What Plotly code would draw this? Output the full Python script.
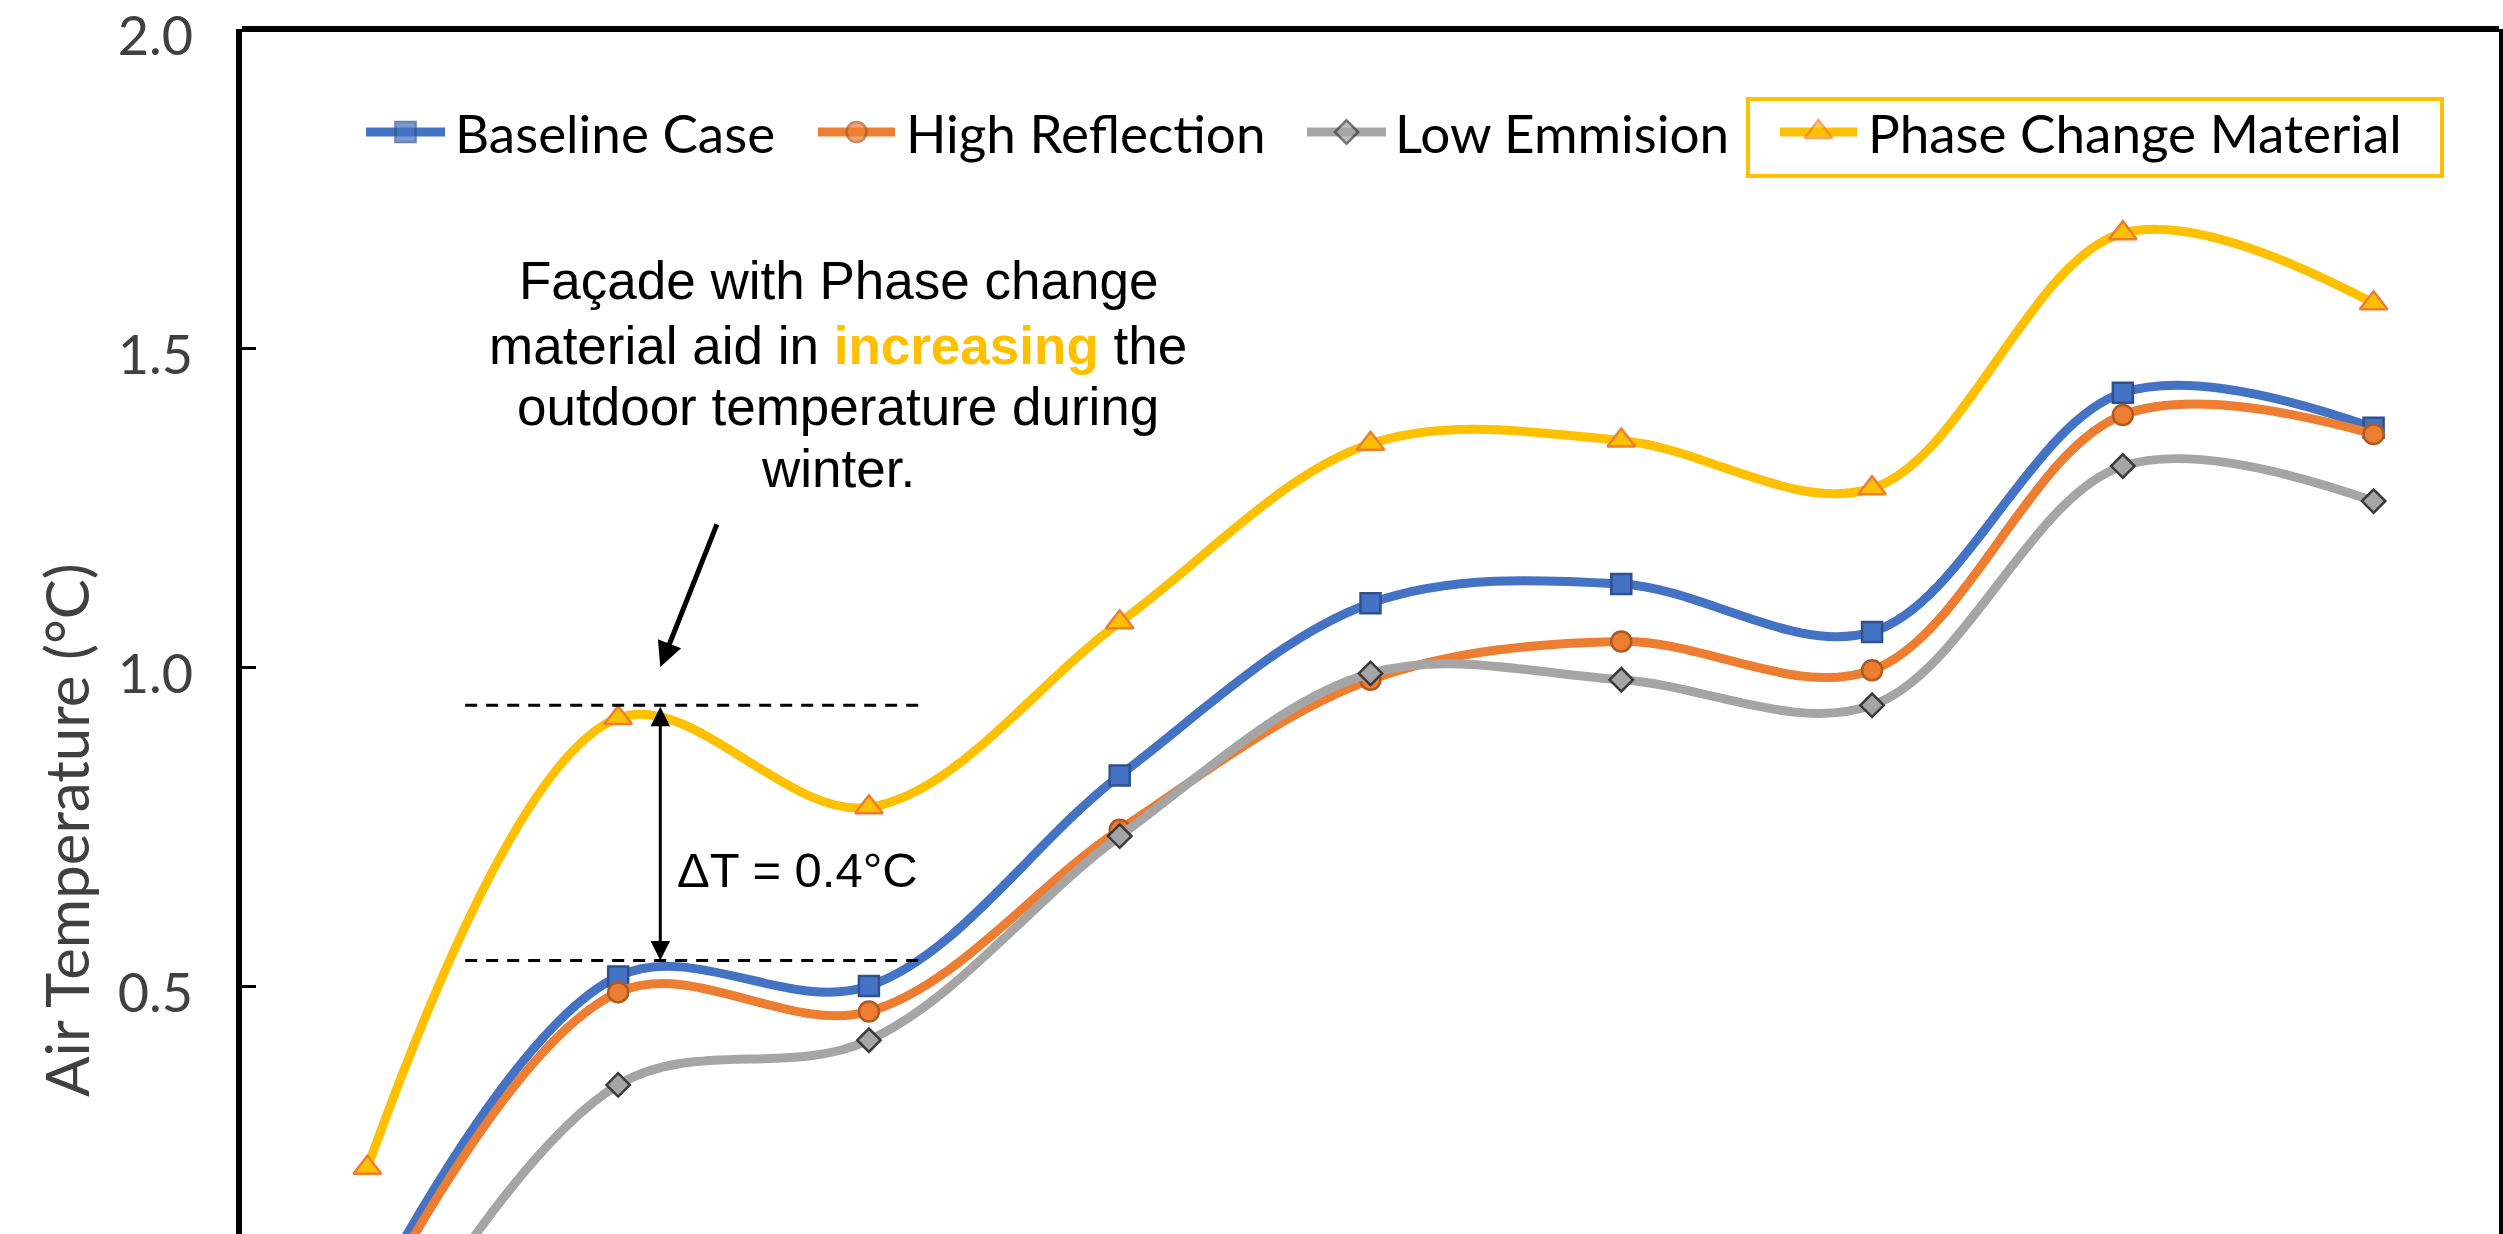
import plotly.graph_objects as go

# ---- data -------------------------------------------------------------
points = [1, 2, 3, 4, 5, 6, 7, 8, 9]
baseline_case = [0.00, 0.515, 0.50, 0.83, 1.10, 1.13, 1.055, 1.43, 1.375]
high_reflection = [-0.02, 0.49, 0.46, 0.745, 0.98, 1.04, 0.995, 1.395, 1.365]
low_emmision = [-0.15, 0.345, 0.415, 0.735, 0.99, 0.98, 0.94, 1.315, 1.26]
phase_change_material = [0.215, 0.92, 0.78, 1.07, 1.35, 1.355, 1.28, 1.68, 1.57]

y_tick_values = [0.5, 1.0, 1.5, 2.0]
y_tick_labels = ["0.5", "1.0", "1.5", "2.0"]

# guide levels: crest of the PCM curve and of the baseline curve near point 2
pcm_peak = 0.94
base_peak = 0.54

# ---- styling ----------------------------------------------------------
W, H = 2503, 1234
PLOT_L, PLOT_R, PLOT_T = 242, 2499, 29
PX_PER_UNIT = 638.0
TICK_FONT = "Lato"
NOTE_FONT = "Liberation Sans, Arial, sans-serif"

series = [
    dict(name="Baseline Case", y=baseline_case, color="#4472C4",
         symbol="square", size=20, edge="#2F528F"),
    dict(name="High Reflection", y=high_reflection, color="#ED7D31",
         symbol="circle", size=20, edge="#AE5A21"),
    dict(name="Low Emmision", y=low_emmision, color="#A5A5A5",
         symbol="diamond", size=18, edge="#3A3A3A"),
    dict(name="Phase Change Material", y=phase_change_material, color="#FFC000",
         symbol="triangle-up", size=24, edge="#ED7D31"),
]

fig = go.Figure()

for s in series:
    fig.add_trace(go.Scatter(
        x=points, y=s["y"], name=s["name"], mode="lines+markers",
        line=dict(color=s["color"], width=9, shape="spline", smoothing=1.0),
        marker=dict(symbol=s["symbol"], size=s["size"], color=s["color"],
                    line=dict(color=s["edge"], width=2.5)),
        showlegend=False,
    ))

# ---- legend row drawn on a pixel-unit overlay axis --------------------
legend_y = 132
legend_lines = [(366, 445), (818, 895), (1307, 1386), (1780, 1857)]
legend_text_x = [453, 904, 1393, 1866]
for s, (lx0, lx1), tx in zip(series, legend_lines, legend_text_x):
    fig.add_trace(go.Scatter(
        x=[lx0, (lx0 + lx1) / 2, lx1], y=[legend_y] * 3,
        xaxis="x2", yaxis="y2", mode="lines+markers",
        line=dict(color=s["color"], width=9),
        marker=dict(symbol=s["symbol"], size=[0, s["size"], 0], color=s["color"],
                    line=dict(color=s["edge"], width=[0, 2.5, 0])),
        showlegend=False, hoverinfo="skip",
    ))
    fig.add_annotation(x=tx, y=legend_y, xref="x2", yref="y2", text=s["name"],
                       showarrow=False, xanchor="left", yanchor="middle",
                       font=dict(family=TICK_FONT, size=53, color="#000000"))

# highlight box around the PCM legend entry
fig.add_shape(type="rect", xref="x2", yref="y2", x0=1748, x1=2442, y0=99, y1=176,
              line=dict(color="#FFC000", width=4))

# ---- explanatory note -------------------------------------------------
note_lines = [
    "Façade with Phase change",
    "material aid in <b><span style='color:#FFC000'>increasing</span></b> the",
    "outdoor temperature during",
    "winter.",
]
note_y = [280, 345, 406, 468]
for txt, ny in zip(note_lines, note_y):
    fig.add_annotation(x=838, y=ny, xref="x2", yref="y2", text=txt,
                       showarrow=False, xanchor="center", yanchor="middle",
                       font=dict(family=NOTE_FONT, size=53, color="#000000"))

# pointer from the note to the PCM crest
fig.add_annotation(x=2.168, y=1.0, xref="x", yref="y",
                   ax=2.396, ay=1.226, axref="x", ayref="y",
                   text="", showarrow=True, arrowhead=2, arrowsize=1,
                   arrowwidth=5, arrowcolor="#000000")

# dashed guide lines and the temperature difference between them
for lvl in (pcm_peak, base_peak):
    fig.add_shape(type="line", xref="x", yref="y", x0=1.39, x1=3.22, y0=lvl, y1=lvl,
                  line=dict(color="#000000", width=3, dash="12px,9px"))

fig.add_annotation(x=2.168, y=base_peak, xref="x", yref="y",
                   ax=2.168, ay=pcm_peak, axref="x", ayref="y",
                   text="", showarrow=True, arrowhead=2, arrowside="end+start",
                   arrowsize=1.3, arrowwidth=3, arrowcolor="#000000",
                   standoff=0, startstandoff=0)

fig.add_annotation(x=2.228, y=0.682, xref="x", yref="y",
                   text=f"ΔT = {pcm_peak - base_peak:.1f}°C",
                   showarrow=False, xanchor="left", yanchor="middle",
                   font=dict(family=NOTE_FONT, size=49, color="#000000"))

# y axis title, placed left of the plot area in paper units
plot_w = PLOT_R - PLOT_L
plot_h = H - PLOT_T
fig.add_annotation(x=(66 - PLOT_L) / plot_w, y=(H - 830) / plot_h,
                   xref="paper", yref="paper", text="Air Temperature (°C)",
                   textangle=-90, showarrow=False, xanchor="center", yanchor="middle",
                   font=dict(family=TICK_FONT, size=60, color="#404040"))

# top edge of the frame
fig.add_shape(type="line", xref="paper", yref="paper", x0=0, x1=1, y0=1, y1=1,
              line=dict(color="#000000", width=6))

y_top = 2.0
y_bottom = y_top - (H - PLOT_T) / PX_PER_UNIT

fig.update_layout(
    width=W, height=H,
    margin=dict(l=PLOT_L, r=W - PLOT_R, t=PLOT_T, b=0, pad=0),
    paper_bgcolor="#FFFFFF", plot_bgcolor="#FFFFFF",
    showlegend=False,
    xaxis=dict(range=[0.5, 9.5], visible=False, fixedrange=True),
    yaxis=dict(range=[y_bottom, y_top], tickvals=y_tick_values, ticktext=y_tick_labels,
               showgrid=False, zeroline=False, showline=True, linewidth=6,
               linecolor="#000000", mirror=True, ticks="inside", ticklen=14,
               tickwidth=3, tickcolor="#000000", ticklabelstandoff=32,
               ticklabelshift=7, ticklabeloverflow="allow", automargin=False,
               tickfont=dict(family=TICK_FONT, size=54, color="#404040")),
    xaxis2=dict(overlaying="x", range=[PLOT_L, PLOT_R], visible=False),
    yaxis2=dict(overlaying="y", range=[H, PLOT_T], visible=False),
)

fig.write_html("out.html")
